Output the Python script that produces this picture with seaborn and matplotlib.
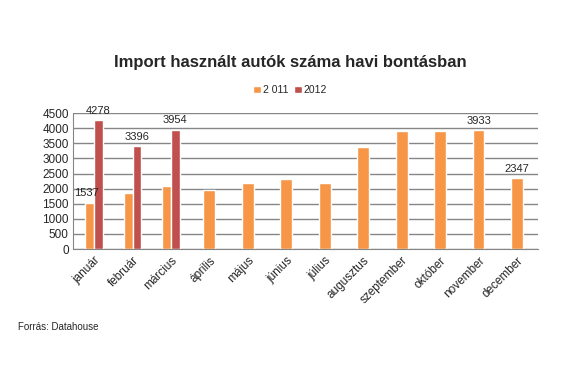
import pandas as pd
import matplotlib.pyplot as plt
import seaborn as sns

# Havi adatok (leolvasva az eredeti ábráról)
months = ["január", "február", "március", "április", "május", "június",
          "július", "augusztus", "szeptember", "október", "november", "december"]
values_2011 = [1537, 1850, 2090, 1960, 2200, 2310, 2200, 3390, 3910, 3910, 3933, 2347]
values_2012 = [4278, 3396, 3954]
series_labels = ["2 011", "2012"]
colors = {"2 011": "#F79646", "2012": "#C0504D"}

# feliratozott oszlopok: (hónap, érték)
labels_2011 = {"január": 1537, "november": 3933, "december": 2347}

sns.set_style("white")
plt.rcParams["font.family"] = ["Liberation Sans", "DejaVu Sans"]

fig = plt.figure(figsize=(5.67, 3.78), dpi=100)
ax = fig.add_axes([0.1287, 0.341, 0.8203, 0.360])

# hónapok, ahol mindkét év van -> csoportosított oszlopok
n12 = len(values_2012)
df_pair = pd.DataFrame({
    "Hónap": months[:n12] * 2,
    "Darab": values_2011[:n12] + values_2012,
    "Év": [series_labels[0]] * n12 + [series_labels[1]] * n12,
})
# csak 2011-es hónapok -> egy középre igazított oszlop
df_single = pd.DataFrame({"Hónap": months[n12:], "Darab": values_2011[n12:]})

sns.barplot(data=df_single, x="Hónap", y="Darab", order=months,
            color=colors["2 011"], saturation=1, width=0.31, ax=ax)
sns.barplot(data=df_pair, x="Hónap", y="Darab", hue="Év", order=months,
            hue_order=series_labels, palette=colors, saturation=1,
            width=0.45, ax=ax)

# értékcímkék
for m, v in labels_2011.items():
    i = months.index(m)
    dx = -0.2 if i < n12 else 0
    ax.annotate(f"{v}", (i + dx, v), xytext=(0, 3), textcoords="offset points",
                ha="center", va="bottom", fontsize=8)
for i, v in enumerate(values_2012):
    ax.annotate(f"{v}", (i + 0.1125, v), xytext=(0, 3), textcoords="offset points",
                ha="center", va="bottom", fontsize=8)

ax.set_ylim(0, 4500)
ax.set_xlim(-0.55, 11.55)
ax.set_yticks(range(0, 4501, 500))
ax.yaxis.grid(True, color="#868686", linewidth=1)
ax.set_axisbelow(True)
ax.set_xlabel("")
ax.set_ylabel("")
for s in ["top", "right"]:
    ax.spines[s].set_visible(False)
for s in ["left", "bottom"]:
    ax.spines[s].set_color("#868686")
ax.tick_params(axis="y", length=0, labelsize=8.5, pad=3)
ax.tick_params(axis="x", length=3, color="#868686", labelsize=8.5, pad=1)
plt.setp(ax.get_xticklabels(), rotation=45, ha="right", rotation_mode="anchor")

sns.move_legend(ax, "center", bbox_to_anchor=(0.512, 0.762),
                bbox_transform=fig.transFigure, ncol=2, frameon=False,
                title=None, fontsize=7.5, handlelength=0.7, handleheight=0.7,
                handletextpad=0.2, columnspacing=0.6)

fig.text(0.512, 0.835, "Import használt autók száma havi bontásban",
         ha="center", va="center", fontsize=12, fontweight="bold")
fig.text(0.032, 0.135, "Forrás: Datahouse", ha="left", va="center", fontsize=7)

fig.savefig("out.png", dpi=100)
plt.close()
